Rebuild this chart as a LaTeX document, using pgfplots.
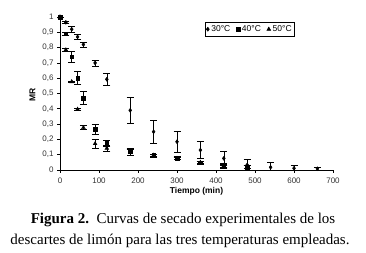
\documentclass[border=0pt]{standalone}
\usepackage{pgfplots}
\pgfplotsset{compat=1.18}
\usepackage{fontspec}
\setmainfont{Liberation Serif}
\newfontfamily\arial{Liberation Sans}
\pgfplotsset{myerr/.style={error bars/.cd, y dir=both, y explicit,
  error bar style={line width=0.6pt, black},
  error mark options={rotate=90, mark size=3.5pt, line width=0.6pt, black}}}
\begin{document}
\begin{tikzpicture}[x=1pt,y=1pt]
\useasboundingbox (0,0) rectangle (366,253);
\begin{axis}[
  at={(60pt,83pt)}, anchor=south west,
  scale only axis, width=273pt, height=153pt,
  xmin=0, xmax=700, ymin=0, ymax=1,
  axis lines=left, axis line style={-, line width=0.8pt},
  xtick={0,100,...,700},
  ytick={0,0.1,0.2,0.3,0.4,0.5,0.6,0.7,0.8,0.9,1},
  yticklabels={0,{0,1},{0,2},{0,3},{0,4},{0,5},{0,6},{0,7},{0,8},{0,9},1},
  tick align=outside, major tick length=3pt,
  tick style={line width=0.6pt, black},
  /pgf/number format/assume math mode=true,
  tick label style={font=\arial\fontsize{8}{9}\selectfont, text=black!80},
  xticklabel style={yshift=-1pt},
  xlabel={\textbf{Tiempo (min)}},
  ylabel={\textbf{MR}},
  label style={font=\arial\fontsize{8.5}{9}\selectfont},
  xlabel style={at={(axis description cs:0.5,0)}, anchor=north, yshift=-14pt},
  ylabel style={at={(axis description cs:0,0.49)}, anchor=south, yshift=21pt},
  legend style={at={(0.696,0.92)}, anchor=center, font=\arial\fontsize{8.5}{9}\selectfont,
    legend columns=3, draw=black, line width=0.5pt, inner sep=0.8pt, row sep=0pt,
    /tikz/every even column/.append style={column sep=4pt}},
  legend image code/.code={\draw[#1] plot coordinates {(0.12cm,0cm)};},
]
% 30 C
\addplot[only marks, mark=diamond*, mark size=2pt, black, myerr] coordinates {
  (0,1.0) +- (0,0)
  (15,0.965) +- (0,0.005)
  (30,0.92) +- (0,0.02)
  (45,0.87) +- (0,0.015)
  (60,0.82) +- (0,0.015)
  (90,0.70) +- (0,0.02)
  (120,0.593) +- (0,0.042)
  (180,0.39) +- (0,0.082)
  (240,0.25) +- (0,0.073)
  (300,0.185) +- (0,0.07)
  (360,0.13) +- (0,0.055)
  (420,0.076) +- (0,0.045)
  (480,0.033) +- (0,0.035)
  (540,0.018) +- (0,0.035)
  (600,0.011) +- (0,0.022)
  (660,0.008) +- (0,0.012)
};
\addlegendentry{30\textdegree C}
% 40 C
\addplot[only marks, mark=square*, mark size=1.8pt, black, myerr] coordinates {
  (0,1.0) +- (0,0)
  (15,0.89) +- (0,0.01)
  (30,0.74) +- (0,0.033)
  (45,0.60) +- (0,0.042)
  (60,0.47) +- (0,0.043)
  (90,0.266) +- (0,0.035)
  (120,0.175) +- (0,0.022)
  (180,0.12) +- (0,0.025)
  (240,0.095) +- (0,0.01)
  (300,0.078) +- (0,0.01)
  (360,0.048) +- (0,0.01)
  (420,0.026) +- (0,0.015)
  (480,0.02) +- (0,0.01)
};
\addlegendentry{40\textdegree C}
% 50 C
\addplot[only marks, mark=triangle*, mark size=2.2pt, black, myerr] coordinates {
  (0,1.0) +- (0,0)
  (15,0.785) +- (0,0.01)
  (30,0.577) +- (0,0.005)
  (45,0.397) +- (0,0.005)
  (60,0.277) +- (0,0.012)
  (90,0.172) +- (0,0.03)
  (120,0.142) +- (0,0.02)
  (180,0.115) +- (0,0.02)
  (240,0.097) +- (0,0.008)
  (300,0.075) +- (0,0.008)
  (360,0.05) +- (0,0.008)
  (420,0.03) +- (0,0.01)
  (480,0.02) +- (0,0.01)
};
\addlegendentry{50\textdegree C}
\end{axis}
\node[anchor=base, font=\fontsize{15}{17}\selectfont] at (183,29) {\textbf{Figura 2.}\ \ Curvas de secado experimentales de los};
\node[anchor=base, font=\fontsize{15}{17}\selectfont] at (180,8) {descartes de limón para las tres temperaturas empleadas.};
\end{tikzpicture}
\end{document}
